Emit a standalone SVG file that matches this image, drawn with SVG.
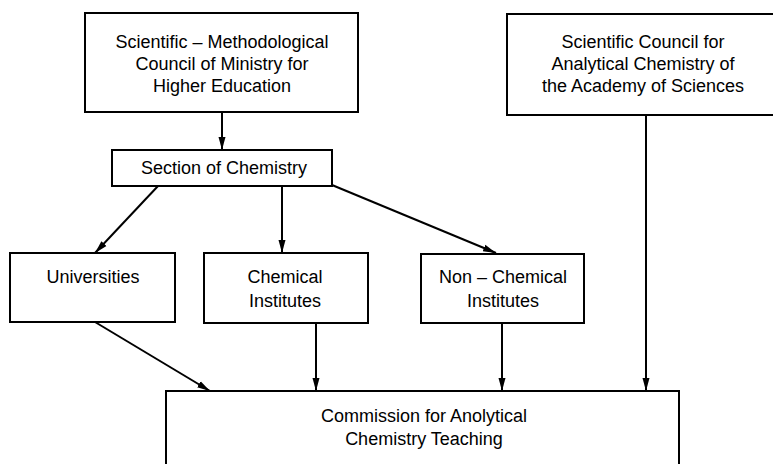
<svg xmlns="http://www.w3.org/2000/svg" width="773" height="464" viewBox="0 0 773 464">
<style>
.box{fill:#fff;stroke:#000;stroke-width:2}
.t{font-family:"Liberation Sans",Arial,sans-serif;font-size:18px;fill:#000;text-anchor:middle}
.c{stroke:#000;stroke-width:2;fill:none;marker-end:url(#ah)}
</style>
<defs>
<marker id="ah" markerUnits="userSpaceOnUse" markerWidth="14" markerHeight="10" refX="13" refY="4" orient="auto">
<path d="M0,0.5 L13,4 L0,7.5 Z" fill="#000"/>
</marker>
</defs>
<rect width="773" height="464" fill="#fff"/>
<g id="connectors">
<line class="c" x1="222" y1="112" x2="222" y2="150"/>
<line class="c" x1="158" y1="186" x2="95" y2="253"/>
<line class="c" x1="282" y1="186" x2="282" y2="253"/>
<line class="c" x1="332" y1="185" x2="496" y2="253"/>
<line class="c" x1="95" y1="322" x2="210" y2="391"/>
<line class="c" x1="316" y1="323" x2="316" y2="391"/>
<line class="c" x1="502" y1="323" x2="502" y2="391"/>
<line class="c" x1="646" y1="115" x2="646" y2="391"/>
</g>
<g id="ministry-council">
<rect class="box" x="85" y="13" width="273" height="99"/>
<text class="t" x="222" y="48">Scientific – Methodological</text>
<text class="t" x="222" y="70">Council of Ministry for</text>
<text class="t" x="222" y="92">Higher Education</text>
</g>
<g id="academy-council">
<rect class="box" x="507" y="14" width="280" height="101"/>
<text class="t" x="643" y="48">Scientific Council for</text>
<text class="t" x="643" y="70">Analytical Chemistry of</text>
<text class="t" x="643" y="92">the Academy of Sciences</text>
</g>
<g id="section-chemistry">
<rect class="box" x="112" y="150" width="220" height="36"/>
<text class="t" x="224" y="174">Section of Chemistry</text>
</g>
<g id="universities">
<rect class="box" x="10" y="253" width="165" height="69"/>
<text class="t" x="93" y="283">Universities</text>
</g>
<g id="chemical-institutes">
<rect class="box" x="204" y="253" width="164" height="70"/>
<text class="t" x="285" y="283">Chemical</text>
<text class="t" x="285" y="307">Institutes</text>
</g>
<g id="non-chemical-institutes">
<rect class="box" x="421" y="254" width="163" height="69"/>
<text class="t" x="503" y="283">Non – Chemical</text>
<text class="t" x="503" y="307">Institutes</text>
</g>
<g id="commission">
<rect class="box" x="166" y="391" width="513" height="80"/>
<text class="t" x="424" y="422">Commission for Anolytical</text>
<text class="t" x="424" y="445">Chemistry Teaching</text>
</g>
</svg>
